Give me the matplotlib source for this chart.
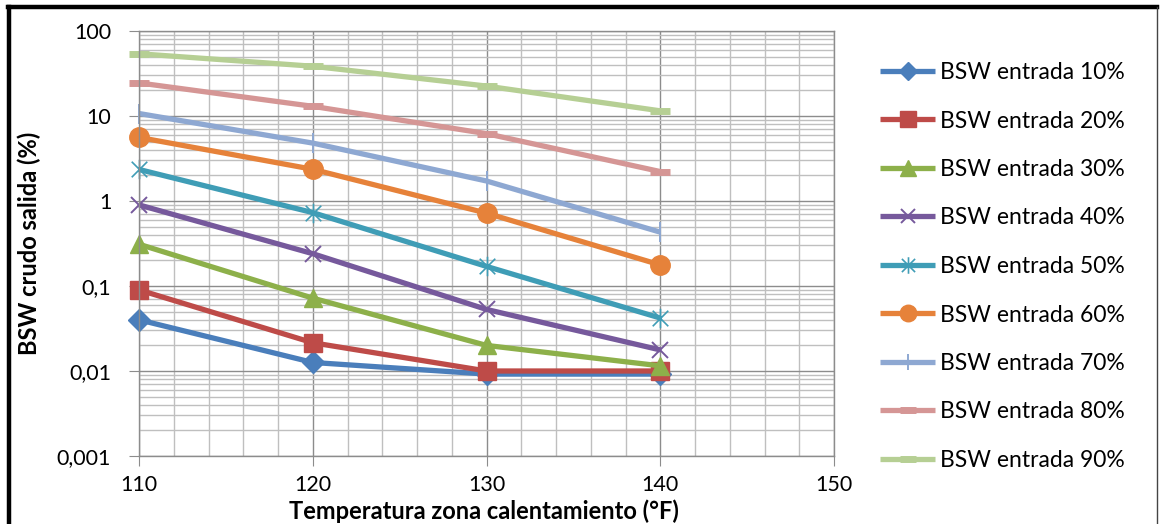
import matplotlib
matplotlib.use("Agg")
import matplotlib.pyplot as plt
from matplotlib.path import Path
from matplotlib.lines import Line2D
from matplotlib.ticker import FixedLocator, FuncFormatter, LogLocator, MultipleLocator, NullFormatter

plt.rcParams['font.family'] = ['Lato', 'DejaVu Sans']

# Heating-zone temperature (°F)
temperature = [110, 120, 130, 140]

# Outlet crude BSW (%) for each inlet BSW
bsw_10 = [0.040, 0.0126, 0.0092, 0.0092]
bsw_20 = [0.090, 0.0215, 0.0100, 0.0100]
bsw_30 = [0.31, 0.072, 0.020, 0.0115]
bsw_40 = [0.90, 0.24, 0.053, 0.0177]
bsw_50 = [2.35, 0.73, 0.170, 0.042]
bsw_60 = [5.6, 2.36, 0.72, 0.177]
bsw_70 = [10.7, 4.8, 1.72, 0.43]
bsw_80 = [24.5, 13.0, 6.2, 2.22]
bsw_90 = [54.0, 38.5, 22.5, 11.5]

labels = ["BSW entrada 10%", "BSW entrada 20%", "BSW entrada 30%",
          "BSW entrada 40%", "BSW entrada 50%", "BSW entrada 60%",
          "BSW entrada 70%", "BSW entrada 80%", "BSW entrada 90%"]
series = [bsw_10, bsw_20, bsw_30, bsw_40, bsw_50, bsw_60, bsw_70, bsw_80, bsw_90]

y_ticks = [0.001, 0.01, 0.1, 1, 10, 100]
y_tick_labels = ["0,001", "0,01", "0,1", "1", "10", "100"]
x_ticks = [110, 120, 130, 140, 150]

# Asterisk marker: an "x" with a vertical bar through it
star_path = Path(
    [(-1, -1), (1, 1), (-1, 1), (1, -1), (0, -1.25), (0, 1.25)],
    [Path.MOVETO, Path.LINETO, Path.MOVETO, Path.LINETO, Path.MOVETO, Path.LINETO],
)

styles = [
    dict(color="#4A7EBB", marker="D", ms=11),
    dict(color="#BE4B48", marker="s", ms=13),
    dict(color="#8DB04A", marker="^", ms=13),
    dict(color="#76599C", marker="x", ms=12, mew=1.4),
    dict(color="#3F9DB6", marker=star_path, ms=14, mew=1.2),
    dict(color="#E6823A", marker="o", ms=14),
    dict(color="#8EA8D2", marker="|", ms=14, mew=1.4),
    dict(color="#D59695", marker="_", ms=14, mew=5),
    dict(color="#B6CF94", marker="_", ms=14, mew=5),
]

W, H = 1163, 524
fig = plt.figure(figsize=(W / 100, H / 100), dpi=100)
ax = fig.add_axes([139 / W, (H - 456) / H, (834 - 139) / W, (456 - 31) / H])

for vals, lab, st in zip(series, labels, styles):
    ax.plot(temperature, vals, color=st["color"], lw=3.8, marker=st["marker"],
            markersize=st["ms"], markeredgewidth=st.get("mew", 1.0),
            markerfacecolor=st["color"], markeredgecolor=st["color"],
            label=lab, solid_capstyle="butt", clip_on=False)

ax.set_yscale("log")
ax.set_ylim(0.001, 100)
ax.set_xlim(110, 150)

ax.yaxis.set_major_locator(FixedLocator(y_ticks))
ax.yaxis.set_major_formatter(FuncFormatter(lambda v, p: dict(zip(y_ticks, y_tick_labels)).get(v, "")))
ax.yaxis.set_minor_locator(LogLocator(base=10, subs=range(2, 10), numticks=20))
ax.yaxis.set_minor_formatter(NullFormatter())
ax.xaxis.set_major_locator(FixedLocator(x_ticks))
ax.xaxis.set_minor_locator(MultipleLocator(2))

ax.grid(which="major", color="#8c8c8c", lw=1.0)
ax.grid(which="minor", color="#bfbfbf", lw=1.0)
ax.set_axisbelow(True)
for sp in ax.spines.values():
    sp.set_color("#8c8c8c")
    sp.set_linewidth(1.0)

ax.tick_params(which="major", length=7, color="#8c8c8c", labelsize=15.5)
ax.tick_params(which="minor", length=0)
ax.tick_params(axis="x", pad=7)
ax.tick_params(axis="y", pad=13)

fig.text(29 / W, (H - 243) / H, "BSW crudo salida (%)", rotation=90, ha="center", va="center",
         fontsize=17, fontweight="bold")
fig.text(484 / W, (H - 511) / H, "Temperatura zona calentamiento (°F)", ha="center", va="center",
         fontsize=17, fontweight="bold")

leg = fig.legend(loc="upper left", bbox_to_anchor=(880 / W, (H - 62) / H), frameon=False,
                 fontsize=16.5, labelspacing=1.2, handlelength=2.4, handletextpad=0.22,
                 borderaxespad=0, borderpad=0)
for h in leg.legend_handles:
    h.set_markersize(h.get_markersize() * 0.85)

# Outer frame of the chart
fig.add_artist(Line2D([8 / W, 1157 / W], [1 - 7 / H, 1 - 7 / H], color="black", lw=3.2,
                      transform=fig.transFigure, solid_capstyle="projecting"))
fig.add_artist(Line2D([9 / W, 9 / W], [0, 1 - 7 / H], color="black", lw=3.2,
                      transform=fig.transFigure))
fig.add_artist(Line2D([1157 / W, 1157 / W], [0, 1 - 7 / H], color="#444444", lw=1.0,
                      transform=fig.transFigure))

fig.savefig("out.png", dpi=100)
